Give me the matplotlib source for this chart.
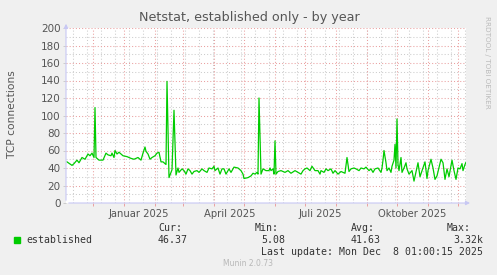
import datetime as dt
import matplotlib
matplotlib.use("Agg")
import matplotlib.pyplot as plt
from matplotlib.patches import Rectangle

# time window of the munin "by year" graph (400 days, 1 px per day)
x_start = dt.datetime(2024, 11, 3, 18, 0)
x_end = x_start + dt.timedelta(days=400)
first_sample = dt.datetime(2024, 11, 4, 18, 0)

# day offset from first sample, established connections
days = [0, 5, 7, 10, 12, 15, 18, 21, 23, 25, 27, 28, 29, 32, 36, 39, 41, 44, 45, 47,
        48, 50, 52, 54, 56, 60, 64, 67, 71, 74, 76, 78, 79, 81, 83, 85, 88, 90, 92, 94,
        96, 99, 100, 102, 105, 107, 109, 111, 112, 115, 117, 119, 121, 123, 125, 127,
        130, 132, 135, 137, 140, 142, 145, 147, 148, 151, 153, 155, 157, 159, 162, 164,
        167, 171, 174, 176, 177, 181, 184, 186, 188, 190, 191, 192, 194, 196, 199, 202,
        203, 204, 206, 207, 208, 209, 211, 214, 218, 221, 224, 228, 231, 234, 236, 238,
        240, 243, 245, 248, 251, 253, 254, 257, 259, 261, 264, 266, 268, 271, 274, 278,
        280, 282, 284, 287, 289, 292, 294, 297, 299, 302, 304, 306, 308, 311, 314, 315,
        316, 317, 319, 320, 322, 324, 325, 327, 328, 329, 330, 331, 332, 334, 335, 337,
        339, 340, 342, 345, 347, 351, 353, 356, 358, 360, 361, 364, 366, 368, 370, 374,
        376, 378, 380, 382, 385, 387, 389, 391, 393, 395, 396, 398, 399]
established = [47, 43, 45, 49, 46, 52, 50, 56, 54, 57, 52, 109, 52, 49, 49, 57, 55, 54, 57, 52,
               60, 56, 58, 56, 54, 53, 51, 50, 52, 49, 57, 64, 59, 56, 50, 52, 54, 57, 58, 47,
               47, 44, 139, 29, 38, 106, 32, 40, 35, 39, 37, 33, 39, 37, 33, 36,
               37, 35, 39, 37, 35, 40, 39, 42, 37, 40, 33, 39, 39, 33, 39, 35,
               41, 40, 37, 33, 28, 29, 31, 34, 33, 35, 33, 120, 33, 39, 37, 37,
               40, 37, 39, 33, 71, 33, 36, 37, 35, 37, 34, 37, 35, 33, 37, 39,
               40, 37, 42, 37, 37, 33, 37, 35, 39, 37, 39, 34, 37, 33, 36, 34,
               52, 36, 39, 40, 39, 37, 40, 39, 41, 37, 39, 35, 39, 40, 35, 40,
               49, 60, 46, 37, 40, 35, 42, 49, 67, 40, 96, 44, 37, 52, 35, 40,
               46, 39, 33, 37, 25, 46, 30, 40, 47, 28, 37, 50, 40, 27, 31, 50,
               46, 27, 39, 30, 49, 37, 27, 40, 39, 45, 37, 44, 46.4]

month_labels = ["Januar 2025", "April 2025", "Juli 2025", "Oktober 2025"]
label_dates = [dt.datetime(2025, 1, 16), dt.datetime(2025, 4, 16),
               dt.datetime(2025, 7, 16), dt.datetime(2025, 10, 16)]

TXT = "#555555"
MGRID = "#eaa0a0"
GRID = "#cccccc"
AXIS = "#c8c8f4"
DOT = (0, (1, 2))

W, H = 497, 275
fig = plt.figure(figsize=(W / 100, H / 100), dpi=100, facecolor="#f0f0f0")
ax = fig.add_axes([66 / W, 1 - 203 / H, 400 / W, 175 / H])
ax.set_facecolor("white")

dates = [first_sample + dt.timedelta(days=d) for d in days]

# grid: grey every 2nd monday, red on month starts
d = dt.datetime(2024, 11, 11)
while d < x_end:
    ax.axvline(d, color=GRID, lw=0.75, ls=DOT, zorder=1)
    d += dt.timedelta(days=14)
month_starts = []
y, m = 2024, 12
while dt.datetime(y, m, 1) < x_end:
    month_starts.append(dt.datetime(y, m, 1))
    m += 1
    if m > 12:
        y, m = y + 1, 1
for ms in month_starts:
    ax.axvline(ms, color=MGRID, lw=0.75, ls=DOT, zorder=2)
for v in range(10, 201, 20):
    ax.axhline(v, color=GRID, lw=0.75, ls=DOT, zorder=1)
for v in range(20, 201, 20):
    ax.axhline(v, color=MGRID, lw=0.75, ls=DOT, zorder=2)

ax.plot(dates, established, color="#00cc00", lw=0.9, zorder=3)

ax.set_xlim(x_start, x_end)
ax.set_ylim(0, 200)
ax.set_yticks(range(0, 201, 20))
ax.set_xticks(label_dates)
ax.set_xticklabels(month_labels)
ax.set_xticks(month_starts, minor=True)
ax.tick_params(axis="x", which="major", length=0, pad=4, labelsize=7.2, labelcolor=TXT)
ax.tick_params(axis="x", which="minor", length=2.5, width=0.7, color=MGRID, direction="out")
ax.tick_params(axis="y", length=2, width=0.7, color=GRID, pad=2, labelsize=7.5, labelcolor=TXT)
for s in ax.spines.values():
    s.set_visible(False)

# axis arrows
ax.annotate("", xy=(1.017, 0), xytext=(0, 0), xycoords="axes fraction",
            arrowprops=dict(arrowstyle="-|>", color=AXIS, lw=0.8, mutation_scale=6))
ax.annotate("", xy=(0, 1.04), xytext=(0, 0), xycoords="axes fraction",
            arrowprops=dict(arrowstyle="-|>", color=AXIS, lw=0.8, mutation_scale=6))

def px(x, y):
    return x / W, 1 - y / H

fig.text(*px(249, 18), "Netstat, established only - by year", ha="center", va="center",
         fontsize=9.2, color=TXT)
fig.text(*px(12, 114), "TCP connections", rotation=90, ha="center", va="center",
         fontsize=7.7, color=TXT)
fig.text(*px(487, 62), "RRDTOOL / TOBI OETIKER", rotation=270, ha="center", va="center",
         fontsize=5.2, color="#bbbbbb")

mono = dict(family="DejaVu Sans Mono", fontsize=7.1, color="#333333", va="center")
fig.patches.append(Rectangle(px(14, 243), 6 / W, 6 / H, transform=fig.transFigure,
                             color="#00cc00", figure=fig))
fig.text(*px(26, 240), "established", ha="left", **mono)
fig.text(*px(158, 228), "Cur:", ha="left", **mono)
fig.text(*px(158, 240), "46.37", ha="left", **mono)
fig.text(*px(255, 228), "Min:", ha="left", **mono)
fig.text(*px(285, 240), "5.08", ha="right", **mono)
fig.text(*px(351, 228), "Avg:", ha="left", **mono)
fig.text(*px(351, 240), "41.63", ha="left", **mono)
fig.text(*px(447, 228), "Max:", ha="left", **mono)
fig.text(*px(483, 240), "3.32k", ha="right", **mono)
fig.text(*px(483, 252), "Last update: Mon Dec  8 01:00:15 2025", ha="right", **mono)
fig.text(*px(248, 263), "Munin 2.0.73", ha="center", va="center", fontsize=5.5, color="#b8b8b8")

fig.savefig("out.png", dpi=100, facecolor=fig.get_facecolor())
